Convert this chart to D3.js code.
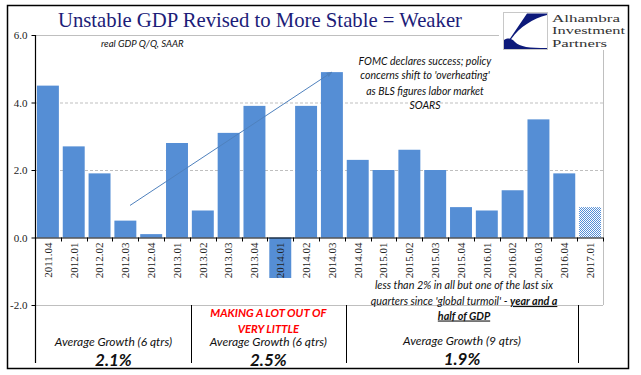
<!DOCTYPE html>
<html>
<head>
<meta charset="utf-8">
<script src="https://cdn.jsdelivr.net/npm/d3@7"></script>
<style>
  body { margin: 0; background: #fff; }
</style>
</head>
<body>
<div id="container"></div>
<script>
/* DATA */
const quarters = ["2011.04", "2012.01", "2012.02", "2012.03", "2012.04", "2013.01", "2013.02", "2013.03",
                  "2013.04", "2014.01", "2014.02", "2014.03", "2014.04", "2015.01", "2015.02", "2015.03",
                  "2015.04", "2016.01", "2016.02", "2016.03", "2016.04", "2017.01"];
const growth = [4.5, 2.7, 1.9, 0.5, 0.1, 2.8, 0.8, 3.1, 3.9, -1.2, 3.9, 4.9, 2.3, 2.0, 2.6, 2.0, 0.9, 0.8, 1.4, 3.5, 1.9, 0.9];
const estimateQuarters = ["2017.01"];
const yTicks = [-2, 0, 2, 4, 6];
const dashedTicks = [2, 4];
const solidTicks = [-2, 6];

const blockStart = ["2011.04", "2013.02", "2014.04"];
const blockEnd = ["2013.01", "2014.03", "2016.04"];
const blockLabels = ["Average Growth (6 qtrs)", "Average Growth (6 qtrs)", "Average Growth (9 qtrs)"];
const blockAverages = ["2.1%", "2.5%", "1.9%"];
const redNote = ["MAKING A LOT OUT OF", "VERY LITTLE"];

const fomcNote = ["FOMC declares success; policy", "concerns shift to 'overheating'", "as BLS figures labor market", "SOARS"];
const arrowFrom = {q: "2012.03", v: 0.95, shift: 0.18};
const arrowTo = {q: "2014.03", v: 4.9, shift: 0};

/* CONSTANTS */
const width = 641, height = 375,
      margin = {top: 35, left: 35, bottom: 70, right: 38};
const barColor = "#558ed5",
      gridColor = "#bfbfbf",
      noteFont = "Lato, 'Open Sans', sans-serif",
      serif = "'Liberation Serif', 'DejaVu Serif', serif";

/* SCALES */
const xScale = d3.scaleBand()
  .domain(quarters)
  .range([margin.left, width - margin.right])
  .paddingInner(0.15)
  .paddingOuter(0.075);

const yScale = d3.scaleLinear()
  .domain([-2, 6])
  .range([height - margin.bottom, margin.top]);

const step = xScale.step();
const edge = q => xScale(q) - step * xScale.paddingInner() / 2;

/* SVG */
const svg = d3.select("#container")
  .append("svg")
  .attr("width", width)
  .attr("height", height)
  .style("font-family", serif);

const defs = svg.append("defs");
const pat = defs.append("pattern")
  .attr("id", "dots")
  .attr("width", 2).attr("height", 2)
  .attr("patternUnits", "userSpaceOnUse");
pat.append("rect").attr("width", 2).attr("height", 2).attr("fill", "#fff");
pat.append("rect").attr("width", 1).attr("height", 1).attr("fill", barColor);
pat.append("rect").attr("x", 1).attr("y", 1).attr("width", 1).attr("height", 1).attr("fill", barColor);

defs.append("marker")
  .attr("id", "head")
  .attr("viewBox", "0 0 10 10")
  .attr("refX", 9).attr("refY", 5)
  .attr("markerWidth", 6).attr("markerHeight", 6)
  .attr("orient", "auto")
  .append("path")
  .attr("d", "M0,1 L10,5 L0,9 Z")
  .attr("fill", "#4f81bd");

// outer frame
svg.append("rect")
  .attr("x", 7.5).attr("y", 5.5)
  .attr("width", 621).attr("height", 363)
  .attr("fill", "none")
  .attr("stroke", "#000")
  .attr("stroke-width", 1.5);

// gridlines
svg.selectAll(".grid-dash")
  .data(dashedTicks)
  .join("line")
  .attr("x1", margin.left).attr("x2", width - margin.right)
  .attr("y1", d => yScale(d) + 0.5).attr("y2", d => yScale(d) + 0.5)
  .attr("stroke", gridColor)
  .attr("stroke-dasharray", "3,2");

svg.selectAll(".grid-solid")
  .data(solidTicks)
  .join("line")
  .attr("x1", margin.left).attr("x2", width - margin.right)
  .attr("y1", d => yScale(d) + 0.5).attr("y2", d => yScale(d) + 0.5)
  .attr("stroke", gridColor);

svg.append("line")
  .attr("x1", width - margin.right + 0.5).attr("x2", width - margin.right + 0.5)
  .attr("y1", yScale(6)).attr("y2", yScale(-2))
  .attr("stroke", gridColor);

// bars
svg.selectAll(".bar")
  .data(quarters)
  .join("rect")
  .attr("class", "bar")
  .attr("x", d => xScale(d))
  .attr("width", xScale.bandwidth())
  .attr("y", (d, i) => yScale(Math.max(0, growth[i])))
  .attr("height", (d, i) => Math.abs(yScale(growth[i]) - yScale(0)))
  .attr("fill", d => estimateQuarters.includes(d) ? "url(#dots)" : barColor);

// zero axis with ticks at band edges
svg.append("line")
  .attr("x1", margin.left).attr("x2", width - margin.right)
  .attr("y1", yScale(0) + 0.5).attr("y2", yScale(0) + 0.5)
  .attr("stroke", "#000");

svg.selectAll(".xtick")
  .data(quarters.concat(["end"]))
  .join("line")
  .attr("x1", (d, i) => Math.round(margin.left + i * step) + 0.5)
  .attr("x2", (d, i) => Math.round(margin.left + i * step) + 0.5)
  .attr("y1", yScale(0)).attr("y2", yScale(0) + 4)
  .attr("stroke", "#000");

svg.selectAll(".xlabel")
  .data(quarters)
  .join("text")
  .attr("transform", d => `translate(${xScale(d) + xScale.bandwidth() / 2},${yScale(0) + 5}) rotate(-90)`)
  .attr("dy", "0.35em")
  .attr("text-anchor", "end")
  .attr("font-size", 11)
  .attr("fill", "#222")
  .text(d => d);

// y axis
const yAxis = svg.append("g")
  .attr("transform", `translate(${margin.left + 0.5},0)`)
  .call(d3.axisLeft(yScale).tickValues(yTicks).tickSize(4).tickFormat(d => d.toFixed(1)));
yAxis.select(".domain").remove();
yAxis.selectAll("text").attr("font-family", serif).attr("font-size", 11).attr("fill", "#222").attr("x", -8);
yAxis.selectAll("line").attr("stroke", "#000");
yAxis.append("line")
  .attr("y1", yScale(6)).attr("y2", yScale(-2) + 58)
  .attr("stroke", "#000").attr("stroke-width", 1.2);

// block separators
const sepEdges = blockStart.slice(1).map(edge).concat([edge(blockEnd[2]) + step]);
svg.selectAll(".sep")
  .data(sepEdges)
  .join("line")
  .attr("x1", d => Math.round(d) + 1.5).attr("x2", d => Math.round(d) + 1.5)
  .attr("y1", yScale(-2)).attr("y2", yScale(-2) + 58)
  .attr("stroke", "#000");

// block texts
const blockCenter = i => (edge(blockStart[i]) + edge(blockEnd[i]) + step) / 2 + 1;
blockLabels.forEach((lab, i) => {
  svg.append("text")
    .attr("x", blockCenter(i)).attr("y", i === 2 ? 345 : 346)
    .attr("text-anchor", "middle")
    .attr("font-family", noteFont).attr("font-style", "italic")
    .attr("font-size", 12).attr("fill", "#111")
    .text(lab);
  svg.append("text")
    .attr("x", blockCenter(i)).attr("y", i === 2 ? 365 : 366)
    .attr("text-anchor", "middle")
    .attr("font-family", noteFont).attr("font-style", "italic").attr("font-weight", "bold")
    .attr("font-size", 17).attr("fill", "#111")
    .text(blockAverages[i]);
});

svg.selectAll(".red")
  .data(redNote)
  .join("text")
  .attr("x", blockCenter(1)).attr("y", (d, i) => 317 + i * 16)
  .attr("text-anchor", "middle")
  .attr("font-family", noteFont).attr("font-style", "italic").attr("font-weight", "bold")
  .attr("font-size", 11.3).attr("fill", "#ff0000")
  .text(d => d);

// note about the last six quarters
const noteX = blockCenter(2) + 2;
const note = svg.append("g")
  .attr("font-family", noteFont).attr("font-style", "italic")
  .attr("font-size", 10.8).attr("fill", "#111")
  .attr("text-anchor", "middle");
note.append("text").attr("x", noteX).attr("y", 289).text("less than 2% in all but one of the last six");
const l2 = note.append("text").attr("x", noteX).attr("y", 305);
l2.append("tspan").text("quarters since 'global turmoil' - ");
l2.append("tspan").attr("font-weight", "bold").attr("text-decoration", "underline").text("year and a");
note.append("text").attr("x", noteX).attr("y", 319.5)
  .attr("font-weight", "bold").attr("text-decoration", "underline").text("half of GDP");

// arrow
svg.append("line")
  .attr("x1", xScale(arrowFrom.q) + xScale.bandwidth() / 2 + arrowFrom.shift * step)
  .attr("y1", yScale(arrowFrom.v))
  .attr("x2", xScale(arrowTo.q) + xScale.bandwidth() / 2 + arrowTo.shift * step)
  .attr("y2", yScale(arrowTo.v))
  .attr("stroke", "#4f81bd")
  .attr("stroke-width", 1)
  .attr("marker-end", "url(#head)");

// FOMC note
svg.selectAll(".fomc")
  .data(fomcNote)
  .join("text")
  .attr("x", 425)
  .attr("y", (d, i) => [65, 79, 95, 109][i])
  .attr("text-anchor", "middle")
  .attr("font-family", noteFont).attr("font-style", "italic")
  .attr("font-size", 10.5).attr("fill", "#111")
  .text(d => d);

// subtitle
svg.append("text")
  .attr("x", 101).attr("y", 47)
  .attr("font-family", noteFont).attr("font-style", "italic")
  .attr("font-size", 9.6).attr("fill", "#111")
  .text("real GDP Q/Q, SAAR");

// title
svg.append("text")
  .attr("x", 58).attr("y", 27)
  .attr("font-size", 21)
  .attr("fill", "#1c1c78")
  .attr("textLength", 404)
  .attr("lengthAdjust", "spacingAndGlyphs")
  .text("Unstable GDP Revised to More Stable = Weaker");

// logo
svg.append("rect")
  .attr("x", 499).attr("y", 9).attr("width", 128).attr("height", 41)
  .attr("fill", "#fff");
const logo = svg.append("g").attr("transform", "translate(503,12)");
logo.append("rect").attr("x", 0.5).attr("y", 0.5).attr("width", 44).attr("height", 37)
  .attr("fill", "#fff").attr("stroke", "#c8c8c8");
logo.append("path")
  .attr("d", "M24,1.5 L44,1.5 L44,3 C30,6 16,16 9,26 L2,34 Z")
  .attr("fill", "#0d1a7a");
logo.append("path")
  .attr("d", "M1,28 C6,25 9,27 12,30 C17,35 26,36 44,36 L44,37 L1,37 Z")
  .attr("fill", "#0d1a7a");
const logoText = ["Alhambra", "Investment", "Partners"];
const logoWidth = [68, 73, 55];
logo.selectAll(".lt")
  .data(logoText)
  .join("text")
  .attr("x", 49)
  .attr("y", (d, i) => 10 + i * 12.3)
  .attr("font-size", 11)
  .attr("fill", "#333")
  .attr("textLength", (d, i) => logoWidth[i])
  .attr("lengthAdjust", "spacingAndGlyphs")
  .text(d => d);
</script>
</body>
</html>
